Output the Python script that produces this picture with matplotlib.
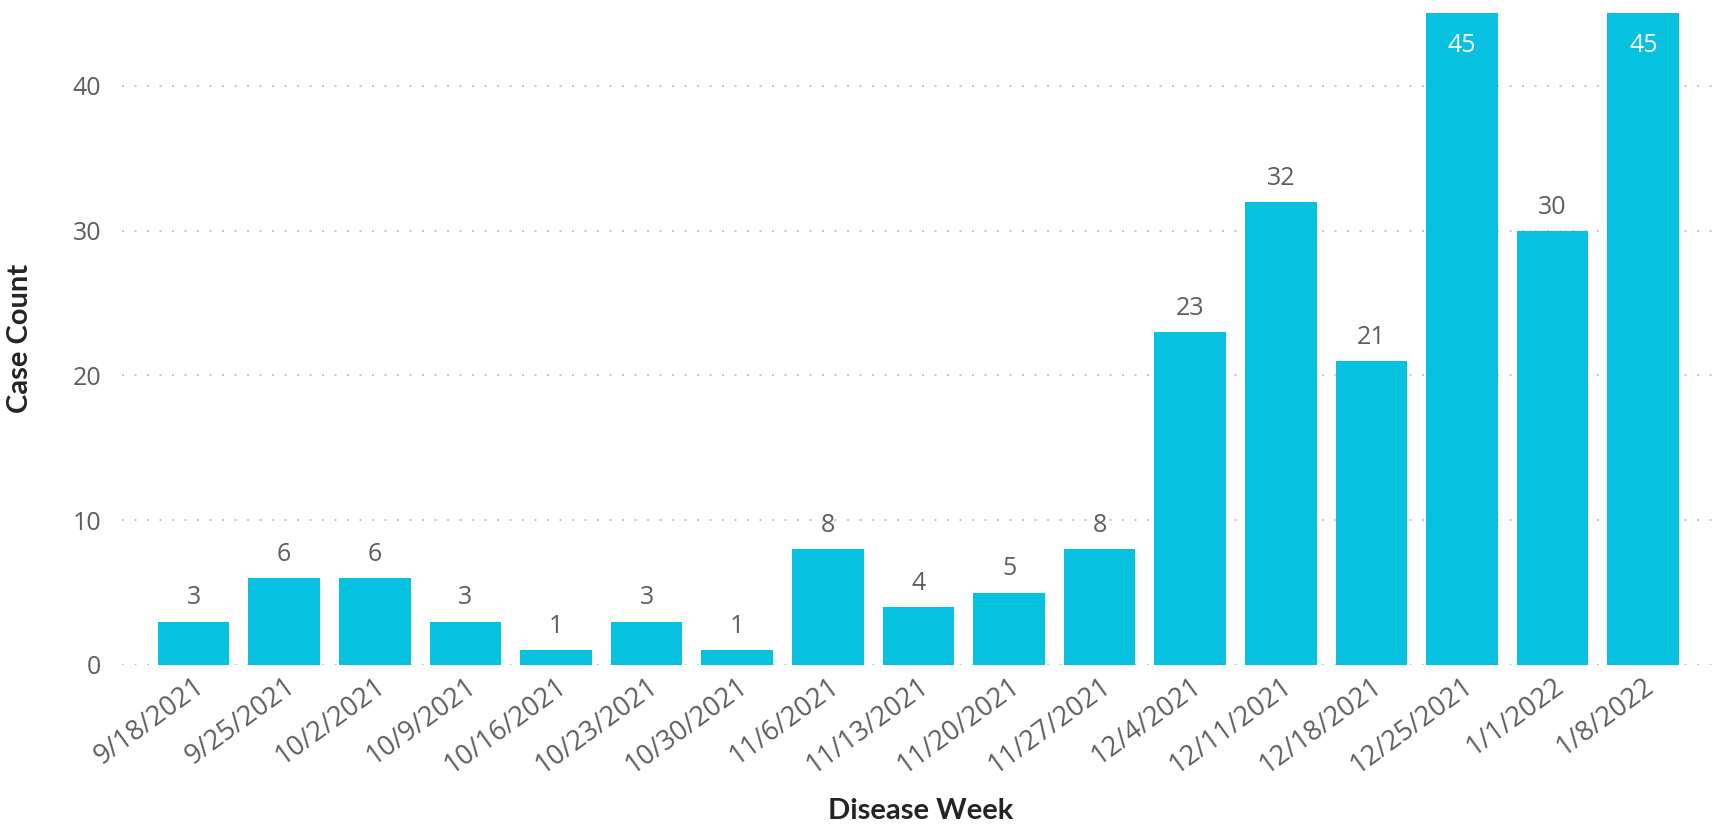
import matplotlib
matplotlib.use("Agg")
import matplotlib.pyplot as plt

weeks = [
    "9/18/2021", "9/25/2021", "10/2/2021", "10/9/2021", "10/16/2021",
    "10/23/2021", "10/30/2021", "11/6/2021", "11/13/2021", "11/20/2021",
    "11/27/2021", "12/4/2021", "12/11/2021", "12/18/2021", "12/25/2021",
    "1/1/2022", "1/8/2022",
]
cases = [3, 6, 6, 3, 1, 3, 1, 8, 4, 5, 8, 23, 32, 21, 45, 30, 45]
y_ticks = [0, 10, 20, 30, 40]

BAR = "#06C1DF"
GRAY = "#605E5C"

plt.rcParams["font.family"] = ["Open Sans", "DejaVu Sans"]

fig = plt.figure(figsize=(17.28, 8.24), dpi=100)
ax = fig.add_axes([0.0706, 0.193, 0.9244, 0.7924])

x = list(range(len(weeks)))
ax.bar(x, cases, width=0.79, color=BAR, zorder=2)

ymax = 45.1
ax.set_ylim(0, ymax)
ax.set_xlim(-0.79, 16.84)

# value labels: above the bar, or inside (white) when the bar hits the top
for xi, v in zip(x, cases):
    if v >= ymax - 1:
        ax.annotate(str(v), (xi, v), xytext=(0, -23), textcoords="offset points",
                    ha="center", va="center", color="white", fontsize=18)
    else:
        ax.annotate(str(v), (xi, v), xytext=(0, 17), textcoords="offset points",
                    ha="center", va="center", color=GRAY, fontsize=18)

ax.set_yticks(y_ticks)
ax.yaxis.grid(True, color="#C8C8C8", linestyle=(0, (1, 5)), linewidth=1.5, zorder=0)
ax.set_axisbelow(True)
ax.tick_params(axis="y", length=0, labelsize=18, labelcolor=GRAY, pad=15)
ax.tick_params(axis="x", length=0, labelsize=19.5, labelcolor=GRAY, pad=5)
ax.set_xticks(x)
ax.set_xticklabels(weeks, rotation=36, ha="right", rotation_mode="anchor")
for s in ax.spines.values():
    s.set_visible(False)

ax.set_ylabel("Case Count", fontsize=21, fontweight="bold", color="#252423",
              family=["Lato", "DejaVu Sans"])
ax.yaxis.set_label_coords(-0.056, 0.5)
ax.set_xlabel("Disease Week", fontsize=21, fontweight="bold", color="#252423",
              family=["Lato", "DejaVu Sans"])
ax.xaxis.set_label_coords(0.5, -0.203)

fig.savefig("out.png", dpi=100)
